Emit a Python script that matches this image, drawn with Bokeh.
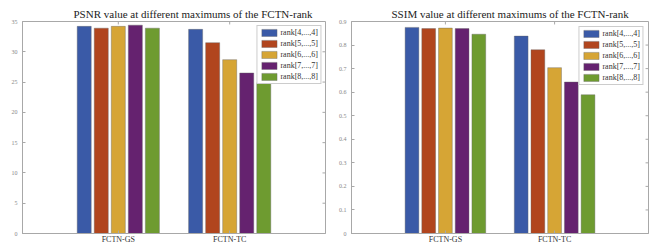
from bokeh.plotting import figure
from bokeh.layouts import row
from bokeh.models import (ColumnDataSource, FixedTicker, Range1d,
                          Legend, LegendItem, Title)
from bokeh.embed import file_html
from bokeh.resources import INLINE

categories = ["FCTN-GS", "FCTN-TC"]
series_names = ["rank[4,...,4]", "rank[5,...,5]", "rank[6,...,6]",
                "rank[7,...,7]", "rank[8,...,8]"]
colors = ["#3A5AA7", "#B1451E", "#D6A535", "#65226F", "#6E9B30"]

# PSNR values: [FCTN-GS, FCTN-TC] for each rank setting
psnr_r4 = [34.2, 33.7]
psnr_r5 = [33.9, 31.5]
psnr_r6 = [34.2, 28.7]
psnr_r7 = [34.4, 26.5]
psnr_r8 = [33.9, 24.9]

# SSIM values: [FCTN-GS, FCTN-TC] for each rank setting
ssim_r4 = [0.875, 0.838]
ssim_r5 = [0.870, 0.780]
ssim_r6 = [0.872, 0.704]
ssim_r7 = [0.870, 0.643]
ssim_r8 = [0.846, 0.589]

psnr_ticks = [0, 5, 10, 15, 20, 25, 30, 35]
ssim_ticks = [0, 0.1, 0.2, 0.3, 0.4, 0.5, 0.6, 0.7, 0.8, 0.9]

SERIF = "Liberation Serif"
X_LO, X_HI = 0.14, 2.86


def make_panel(title, series_vals, y_end, y_ticks, width, mb_left, mb_right,
               title_offset, legend_margin):
    p = figure(width=width, height=246, x_range=Range1d(X_LO, X_HI),
               y_range=Range1d(0, y_end), output_backend="svg",
               toolbar_location=None, min_border_left=mb_left,
               min_border_right=mb_right, min_border_top=21,
               min_border_bottom=9)
    p.background_fill_color = "white"
    p.border_fill_color = "white"
    p.outline_line_color = "#a8a8a8"
    p.xgrid.visible = False
    p.ygrid.visible = False

    cat_pos = [c + 1 for c in range(len(categories))]
    offsets = [-0.306, -0.153, 0.0, 0.153, 0.306]
    items = []
    for i, vals in enumerate(series_vals):
        src = ColumnDataSource(dict(x=[c + offsets[i] for c in cat_pos], top=vals))
        r = p.vbar(x="x", top="top", bottom=0, width=0.126, source=src,
                   fill_color=colors[i], line_color="#666666", line_width=0.4)
        items.append(LegendItem(label=series_names[i], renderers=[r]))

    # right-hand and top inward tick marks (MATLAB box style)
    tick_len_x = 0.027
    tick_len_y = y_end * 0.014
    p.segment(x0=[X_HI] * len(y_ticks), x1=[X_HI - tick_len_x] * len(y_ticks),
              y0=y_ticks, y1=y_ticks, line_color="#a8a8a8", line_width=1)
    p.segment(x0=cat_pos, x1=cat_pos, y0=[y_end] * len(cat_pos),
              y1=[y_end - tick_len_y] * len(cat_pos), line_color="#a8a8a8",
              line_width=1)

    t = Title(text=title, text_font=SERIF, text_font_size="11px",
              text_font_style="normal", text_color="#222222", align="left",
              offset=title_offset, standoff=3)
    p.title = t

    xa = p.xaxis[0]
    xa.axis_label = None
    xa.ticker = FixedTicker(ticks=cat_pos)
    xa.major_label_overrides = {pos: name for pos, name in zip(cat_pos, categories)}
    xa.major_label_text_font = SERIF
    xa.major_label_text_font_size = "8px"
    xa.major_label_text_color = "#333333"
    xa.major_label_standoff = 1
    xa.major_tick_in = 3
    xa.major_tick_out = 0
    xa.minor_tick_line_color = None
    xa.axis_line_color = "#a8a8a8"
    xa.major_tick_line_color = "#a8a8a8"

    ya = p.yaxis[0]
    ya.axis_label = None
    ya.ticker = FixedTicker(ticks=y_ticks)
    ya.major_label_text_font = SERIF
    ya.major_label_text_font_size = "6px"
    ya.major_label_text_color = "#888888"
    ya.major_label_standoff = 5
    ya.major_tick_in = 3
    ya.major_tick_out = 0
    ya.minor_tick_line_color = None
    ya.axis_line_color = "#a8a8a8"
    ya.major_tick_line_color = "#a8a8a8"

    legend = Legend(items=items, location="top_right")
    legend.label_text_font = SERIF
    legend.label_text_font_size = "8px"
    legend.label_text_color = "#333333"
    legend.glyph_width = 19
    legend.glyph_height = 9
    legend.label_height = 9
    legend.label_standoff = 2
    legend.spacing = 2
    legend.padding = 2
    legend.margin = legend_margin
    legend.border_line_color = "#999999"
    legend.border_line_width = 0.8
    legend.background_fill_alpha = 1.0
    p.add_layout(legend)
    return p


p1 = make_panel("PSNR value at different maximums of the FCTN-rank",
                [psnr_r4, psnr_r5, psnr_r6, psnr_r7, psnr_r8],
                35, psnr_ticks, 329, 22, 4, 51, 4)
p2 = make_panel("SSIM value at different maximums of the FCTN-rank",
                [ssim_r4, ssim_r5, ssim_r6, ssim_r7, ssim_r8],
                0.9, ssim_ticks, 330, 22, 11, 40, 5)

layout = row(p1, p2)
open("out.html", "w").write(file_html(layout, INLINE))
